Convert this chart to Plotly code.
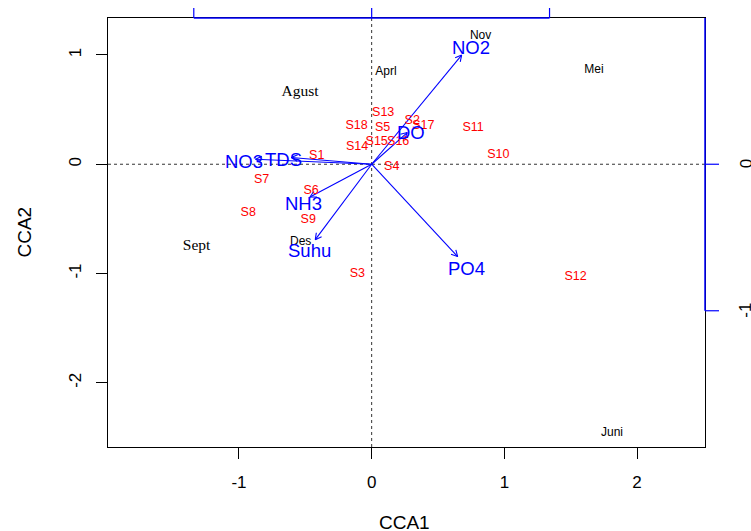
import numpy as np
import plotly.graph_objects as go

# ---------------- data ----------------
site_names = ["S1", "S2", "S3", "S4", "S5", "S6", "S7", "S8", "S9", "S10",
              "S11", "S12", "S13", "S14", "S15", "S16", "S17", "S18"]
site_x = [-0.414, 0.306, -0.108, 0.151, 0.083, -0.457, -0.830, -0.930, -0.478, 0.955,
          0.764, 1.537, 0.087, -0.110, 0.038, 0.200, 0.389, -0.113]
site_y = [0.072, 0.395, -1.005, -0.023, 0.334, -0.242, -0.140, -0.444, -0.510, 0.087,
          0.332, -1.029, 0.466, 0.160, 0.206, 0.206, 0.355, 0.352]

month_sans = ["Nov", "Aprl", "Mei", "Des", "Juni"]
month_sans_x = [0.821, 0.108, 1.675, -0.535, 1.811]
month_sans_y = [1.173, 0.843, 0.862, -0.712, -2.462]

month_serif = ["Agust", "Sept"]
month_serif_x = [-0.540, -1.319]
month_serif_y = [0.660, -0.748]

env_names = ["NO2", "DO", "TDS", "NO3", "NH3", "Suhu", "PO4"]
env_x = [0.678, 0.268, -0.606, -0.875, -0.465, -0.425, 0.648]
env_y = [0.999, 0.290, 0.062, 0.046, -0.300, -0.690, -0.845]
label_mult = 1.1          # labels placed beyond arrow tips
arrow_axis_mult = 0.746   # scaling of the blue biplot axes

x_ticks = [-1, 0, 1, 2]
y_ticks = [-2, -1, 0, 1]
blue_top_ticks = [-1, 0, 1]
blue_right_ticks = [0, -1]

# ---------------- layout geometry ----------------
W, H = 751, 531
ML, MR, MT, MB = 108, 46, 18, 84
PW, PH = W - ML - MR, H - MT - MB
xr = [-1.987, 2.512]
yr = [-2.587, 1.338]
sx = PW / (xr[1] - xr[0])
sy = PH / (yr[1] - yr[0])

SANS = "Liberation Sans, Arial, Helvetica, sans-serif"
SERIF = "Liberation Serif, Times New Roman, serif"
BLUE = "#0000FF"
RED = "#FF0000"

fig = go.Figure()

# arrows (shafts + open heads)
ax_pts, ay_pts = [], []
L = 7.0
ang = np.deg2rad(28)
for x, y in zip(env_x, env_y):
    ax_pts += [0, x, None]
    ay_pts += [0, y, None]
    px, py = x * sx, y * sy
    n = np.hypot(px, py)
    ux, uy = px / n, py / n
    for s in (1, -1):
        c, si = np.cos(s * ang), np.sin(s * ang)
        rx = ux * c - uy * si
        ry = ux * si + uy * c
        ax_pts += [x - L * rx / sx, x, None]
        ay_pts += [y - L * ry / sy, y, None]
fig.add_trace(go.Scatter(x=ax_pts, y=ay_pts, mode="lines",
                         line=dict(color=BLUE, width=1.1),
                         hoverinfo="skip", showlegend=False))

# month labels
fig.add_trace(go.Scatter(x=month_sans_x, y=month_sans_y, mode="text", text=month_sans,
                         textfont=dict(family=SANS, size=12, color="black"),
                         hoverinfo="skip", showlegend=False))
fig.add_trace(go.Scatter(x=month_serif_x, y=month_serif_y, mode="text", text=month_serif,
                         textfont=dict(family=SERIF, size=15.5, color="black"),
                         hoverinfo="skip", showlegend=False))

# site labels
fig.add_trace(go.Scatter(x=site_x, y=site_y, mode="text", text=site_names,
                         textfont=dict(family=SANS, size=12.5, color=RED),
                         hoverinfo="skip", showlegend=False))

annotations = []
# environmental labels
for name, x, y in zip(env_names, env_x, env_y):
    annotations.append(dict(x=x * label_mult, y=y * label_mult, xref="x", yref="y",
                            text=name, showarrow=False, yshift=-3,
                            font=dict(family=SANS, size=18.5, color=BLUE),
                            xanchor="center", yanchor="middle"))

shapes = []
# dotted zero lines
shapes.append(dict(type="line", xref="x", yref="y", x0=xr[0], x1=xr[1], y0=0, y1=0,
                   line=dict(color="#333333", width=1, dash="dot"), layer="below"))
shapes.append(dict(type="line", xref="x", yref="y", x0=0, x1=0, y0=yr[0], y1=yr[1],
                   line=dict(color="#333333", width=1, dash="dot"), layer="below"))

# blue top axis
top_pos = [t / arrow_axis_mult for t in blue_top_ticks]
shapes.append(dict(type="line", xref="x", yref="paper", x0=min(top_pos), x1=max(top_pos),
                   y0=1, y1=1, line=dict(color=BLUE, width=1.5)))
for p in top_pos:
    shapes.append(dict(type="line", xref="x", yref="paper", x0=p, x1=p,
                       y0=1, y1=1 + 10 / PH, line=dict(color=BLUE, width=1.2)))

# blue right axis
right_pos = [t / arrow_axis_mult for t in blue_right_ticks]
shapes.append(dict(type="line", xref="paper", yref="y", x0=1, x1=1,
                   y0=min(right_pos), y1=yr[1], line=dict(color=BLUE, width=1.5)))
for p in right_pos:
    shapes.append(dict(type="line", xref="paper", yref="y", x0=1, x1=1 + 14 / PW,
                       y0=p, y1=p, line=dict(color=BLUE, width=1.2)))

for t, p in zip(blue_right_ticks, right_pos):
    annotations.append(dict(x=1 + (746 - (ML + PW)) / PW, y=p, xref="paper", yref="y",
                            text=str(t), showarrow=False, textangle=-90,
                            font=dict(family=SANS, size=17, color="black"),
                            xanchor="center", yanchor="middle"))
annotations.append(dict(x=0.497, y=(MT + PH - 522) / PH, xref="paper", yref="paper",
                        text="CCA1", showarrow=False,
                        font=dict(family=SANS, size=19, color="black"),
                        xanchor="center", yanchor="middle"))
annotations.append(dict(x=(24 - ML) / PW, y=0.5, xref="paper", yref="paper",
                        text="CCA2", showarrow=False, textangle=-90,
                        font=dict(family=SANS, size=19, color="black"),
                        xanchor="center", yanchor="middle"))

fig.update_layout(
    width=W, height=H,
    margin=dict(l=ML, r=MR, t=MT, b=MB, pad=0),
    plot_bgcolor="white", paper_bgcolor="white",
    shapes=shapes, annotations=annotations,
    xaxis=dict(range=xr, tickvals=x_ticks, ticktext=[str(v) for v in x_ticks],
               showgrid=False, zeroline=False, showline=True, mirror=True,
               linecolor="black", linewidth=1, ticks="outside", ticklen=11,
               tickcolor="black", tickwidth=1,
               tickfont=dict(family=SANS, size=17, color="black"),
               ticklabelstandoff=9),
    yaxis=dict(range=yr, tickvals=y_ticks, ticktext=[str(v) for v in y_ticks],
               showgrid=False, zeroline=False, showline=True, mirror=True,
               linecolor="black", linewidth=1, ticks="outside", ticklen=11,
               tickcolor="black", tickwidth=1, tickangle=-90,
               tickfont=dict(family=SANS, size=17, color="black"),
               ticklabelstandoff=8),
)

fig.write_html("out.html")
